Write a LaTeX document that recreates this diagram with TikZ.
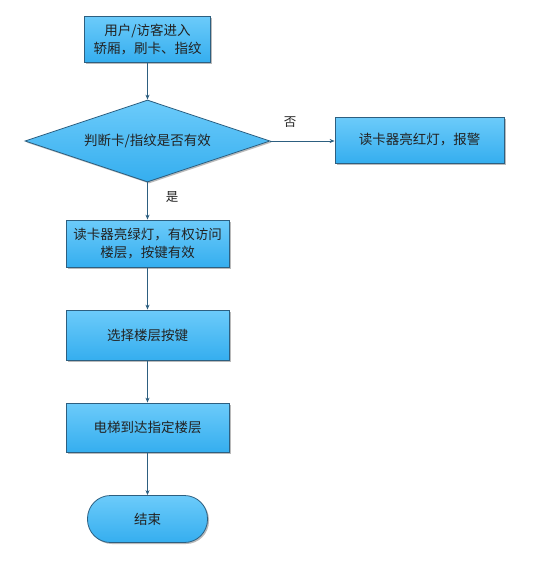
\documentclass[tikz,border=0pt]{standalone}
\usepackage{fontspec}
\setmainfont{Noto Sans CJK SC}
\usetikzlibrary{shapes.geometric,arrows.meta,shadows}
\definecolor{topc}{HTML}{6CCBFA}
\definecolor{botc}{HTML}{35AEEF}
\definecolor{edgec}{HTML}{2D5F80}
\definecolor{txt}{HTML}{222222}
\begin{document}
\begin{tikzpicture}[x=1pt,y=-1pt,
  base/.style={draw=edgec,line width=0.8pt,top color=topc,bottom color=botc,text=txt,
    font=\fontsize{13.5}{18}\selectfont,align=center,inner sep=0pt,
    drop shadow={shadow xshift=1.5pt,shadow yshift=-1.5pt,fill=black!45,opacity=0.6}},
  procbox/.style={base,rectangle},
  decbox/.style={base,diamond,aspect=3},
  endbox/.style={base,rounded corners=23pt},
  conn/.style={draw=edgec,line width=0.8pt,-{Stealth[length=5pt,width=4pt]}},
  lbl/.style={text=txt,font=\fontsize{12.5}{14}\selectfont}]
\useasboundingbox (0,0) rectangle (539,565);
\node[procbox,minimum width=126pt,minimum height=46pt] (a) at (147.5,39) {用户/访客进入\\轿厢，刷卡、指纹};
\node[decbox,minimum width=245pt,minimum height=82pt] (b) at (147.5,141) {判断卡/指纹是否有效};
\node[procbox,minimum width=169pt,minimum height=46pt] (r) at (419.5,140) {读卡器亮红灯，报警};
\node[procbox,minimum width=163pt,minimum height=47pt] (c) at (147.5,243.5) {读卡器亮绿灯，有权访问\\楼层，按键有效};
\node[procbox,minimum width=163pt,minimum height=50pt] (d) at (147.5,335) {选择楼层按键};
\node[procbox,minimum width=163pt,minimum height=49pt] (e) at (147.5,427.5) {电梯到达指定楼层};
\node[endbox,minimum width=120pt,minimum height=47pt] (f) at (147.5,519) {结束};
\draw[conn] (a.south) -- (b.north);
\draw[conn] (b.east) -- (b.east -| r.west);
\draw[conn] (b.south) -- (c.north);
\draw[conn] (c.south) -- (d.north);
\draw[conn] (d.south) -- (e.north);
\draw[conn] (e.south) -- (f.north);
\node[lbl] (no) at (290,122) {否};
\node[lbl] (yes) at (172,197) {是};
\end{tikzpicture}
\end{document}
